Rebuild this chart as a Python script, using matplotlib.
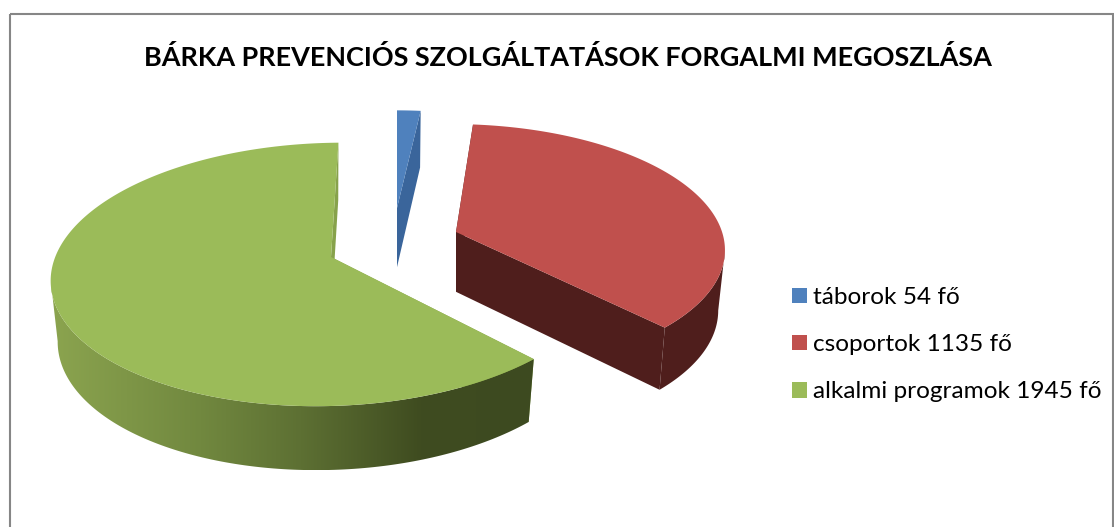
import numpy as np
import matplotlib
matplotlib.use("Agg")
import matplotlib.pyplot as plt
from matplotlib.patches import Polygon, Rectangle, Patch
from matplotlib.colors import to_rgb

# data
categories = ["táborok", "csoportok", "alkalmi programok"]
values = [54, 1135, 1945]
labels = ["táborok 54 fő", "csoportok 1135 fő", "alkalmi programok 1945 fő"]
title = "BÁRKA PREVENCIÓS SZOLGÁLTATÁSOK FORGALMI MEGOSZLÁSA"

# look of the slices
top_colors = ["#4f81bd", "#c0504d", "#9bbb59"]
wall_colors = ["#3a659b", "#4f1e1c", "#87a24b"]
apex = [(397, 208), (456, 232), (331, 257)]   # tip of each exploded slice
radius = [0.934, 0.99, 1.0]
turn = [0, -1, -1]
shear = [0, -5, 13]

plt.rcParams["font.family"] = ["Lato", "DejaVu Sans"]

fig = plt.figure(figsize=(11.14, 5.27), dpi=100)
ax = fig.add_axes([0, 0, 1, 1])

# perspective of the tilted disc
A, B, P, CY, DEPTH = 271, 125, 0.13, 240, 60
NARROW = 0.975   # lower disc is a bit smaller than the top one


def project(i, th):
    # th = clockwise from 12 o'clock, degrees
    y0 = (CY - apex[i][1]) / B
    y0 = y0 / (1 - P * y0)
    th = np.radians(th)
    wy = y0 + radius[i] * np.cos(th)
    s = 1 / (1 + P * wy)
    sx = apex[i][0] + (A * radius[i] * np.sin(th) + shear[i] * np.cos(th)) * s
    sy = CY - B * wy * s
    return sx, sy, DEPTH * s ** 0.4


def green_shade(x):
    stops_x = [51, 200, 300, 420, 531]
    stops_c = [to_rgb(c) for c in ["#8ba44f", "#71883f", "#5d7033", "#3f4c20", "#3d4a20"]]
    return [np.interp(x, stops_x, [c[i] for c in stops_c]) for i in range(3)]


edges = np.cumsum([0] + values) / sum(values) * 360

# back to front: green, red, blue
for i in [2, 1, 0]:
    start, end = edges[i] + turn[i], edges[i + 1] + turn[i]
    ths = np.linspace(start, end, 240)
    x, y, d = project(i, ths)
    ax0, ay0 = apex[i]
    xb = ax0 + (x - ax0) * NARROW
    d0 = project(i, np.array([90.0]))[2][0]
    base = i * -3

    # flat walls of the cut
    for k in [0, -1]:
        ax.add_patch(Polygon([(ax0, ay0), (x[k], y[k]), (xb[k], y[k] + d[k]), (ax0, ay0 + d0)],
                             closed=True, fc=wall_colors[i], ec="none", zorder=base + 1))

    # rim from the silhouette point round the front
    if i == 2:
        front = ths <= ths[np.argmin(x)]
    elif i == 1:
        front = ths >= ths[np.argmax(x)]
    else:
        front = np.zeros(len(ths), dtype=bool)
    if front.any():
        rx, ry, rd, rb = x[front], y[front], d[front], xb[front]
        rim = np.column_stack([np.r_[rx, rb[::-1]], np.r_[ry, (ry + rd)[::-1]]])
        if i == 2:
            xs = np.linspace(rx.min(), rx.max(), 300)
            shade = np.array([[green_shade(v) for v in xs]])
            im = ax.imshow(shade, extent=(xs[0], xs[-1], (ry + rd).max(), ry.min()),
                           aspect="auto", zorder=base + 2)
            clip = Polygon(rim, closed=True, transform=ax.transData)
            im.set_clip_path(clip)
        else:
            ax.add_patch(Polygon(rim, closed=True, fc=wall_colors[i], ec="none", zorder=base + 2))

    # top
    ax.add_patch(Polygon(np.column_stack([np.r_[ax0, x], np.r_[ay0, y]]), closed=True,
                         fc=top_colors[i], ec="none", zorder=base + 3))

ax.set_xlim(0, 1114)
ax.set_ylim(527, 0)
ax.axis("off")

ax.add_patch(Rectangle((10, 14), 1103, 530, fill=False, ec="#868686", lw=1.5, zorder=10))

ax.text(568, 57, title, ha="center", va="center", fontsize=19.45, fontweight="bold", color="black")

handles = [Patch(fc=c, ec="none") for c in top_colors]
ax.legend(handles, labels, loc="upper left", bbox_to_anchor=(792 / 1114, 1 - 287 / 527),
          frameon=False, fontsize=17.6, handlelength=0.61, handleheight=0.61,
          handletextpad=0.25, labelspacing=1.07, borderpad=0, borderaxespad=0,
          labelcolor="black")

fig.savefig("out.png", dpi=100)
